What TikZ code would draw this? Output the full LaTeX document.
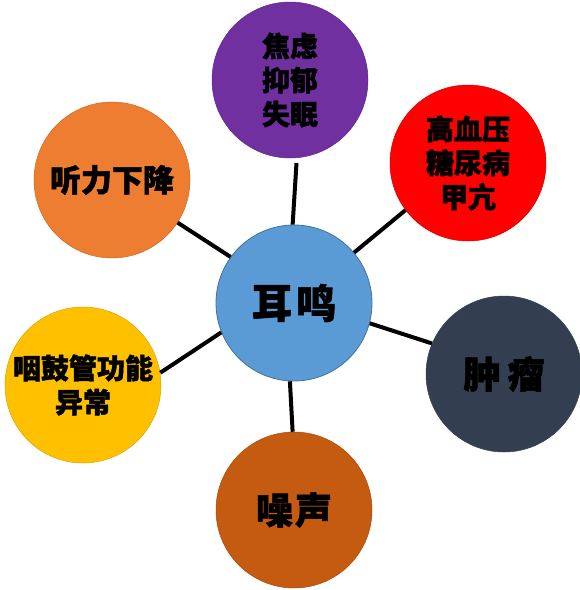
\documentclass[tikz,border=0pt]{standalone}
\usepackage{fontspec}
\newfontfamily\cjk{Noto Sans CJK SC}[BoldFeatures={FakeBold=1.5}]
\definecolor{cblue}{HTML}{5B9BD5}
\definecolor{cblueb}{HTML}{41719C}
\definecolor{cpurple}{HTML}{7030A0}
\definecolor{cred}{HTML}{FF0000}
\definecolor{cdark}{HTML}{333F50}
\definecolor{cbrown}{HTML}{C55A11}
\definecolor{corange}{HTML}{ED7D31}
\definecolor{cyellow}{HTML}{FFC000}
\tikzset{
  bubble/.style={circle, minimum size=156pt, inner sep=0pt, align=center,
    font=\cjk\bfseries\fontsize{28}{34}\selectfont, text=black},
  link/.style={draw=black, line width=4pt}
}
\begin{document}
\begin{tikzpicture}[x=1pt,y=-1pt]
\useasboundingbox (0,0) rectangle (580,590);
\node[bubble, fill=cblue, draw=cblueb, line width=0.8pt,
  font=\cjk\bfseries\fontsize{40}{44}\selectfont] (ear) at (294,303) {耳\hspace{4pt}鸣};
\node[bubble, fill=cpurple, draw=cpurple!85!black, line width=0.5pt] (psy) at (290,80) {焦虑\\抑郁\\失眠};
\node[bubble, fill=cred, draw=cred!85!black, line width=0.5pt] (dis) at (468,163) {高血压\\糖尿病\\甲亢};
\node[bubble, fill=cdark, draw=cdark, line width=0.5pt,
  font=\cjk\bfseries\fontsize{37}{40}\selectfont] (tum) at (504,374) {肿\hspace{7pt}瘤};
\node[bubble, fill=cbrown, draw=cbrown!85!black, line width=0.5pt,
  font=\cjk\bfseries\fontsize{37}{40}\selectfont] (noi) at (294,510) {噪\hspace{2pt}声};
\node[bubble, fill=corange, draw=corange!85!black, line width=0.5pt,
  font=\cjk\bfseries\fontsize{31}{36}\selectfont] (hear) at (112,180) {听力下降};
\node[bubble, fill=cyellow, draw=cyellow!85!black, line width=0.5pt] (tube) at (83,385) {咽鼓管功能\\异常};
\draw[link, shorten <=5pt] (psy.-85) -- (ear.91.5);
\draw[link] (hear.-33.7) -- (ear.144.3);
\draw[link] (dis.217.3) -- (ear.40.8);
\draw[link] (tum.157.4) -- (ear.-15.1);
\draw[link] (noi.91.5) -- (ear.-93.7);
\draw[link] (tube.9.5) -- (ear.202.6);
\end{tikzpicture}
\end{document}
